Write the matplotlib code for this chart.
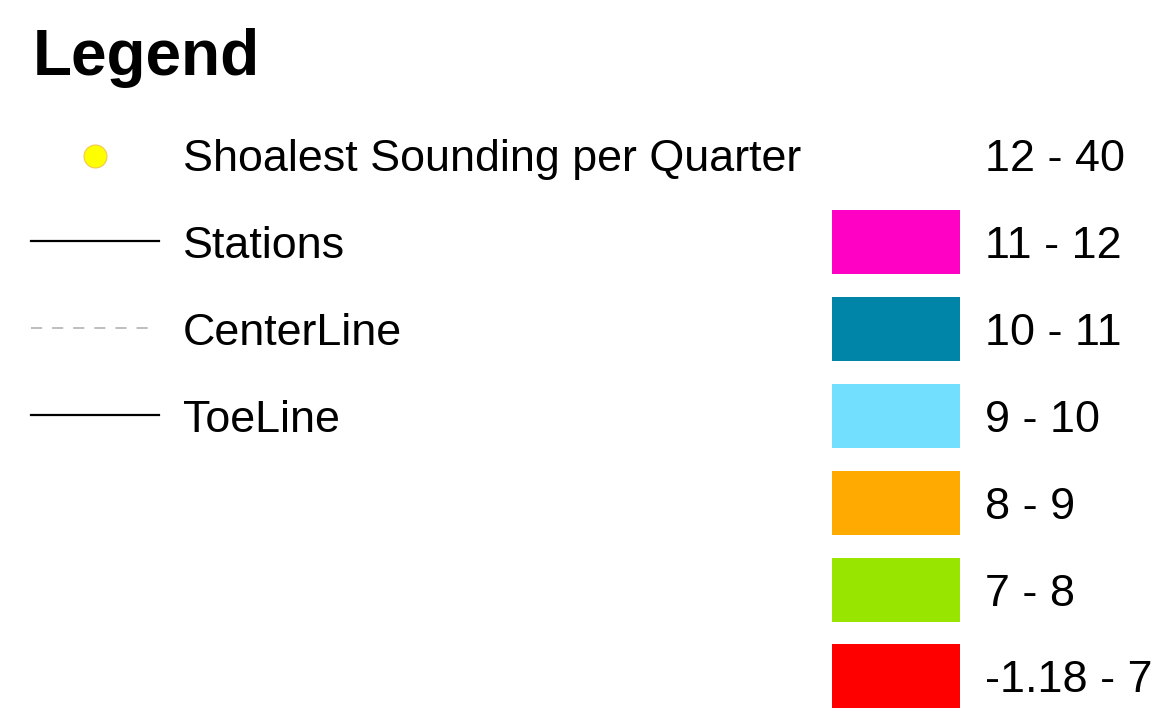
import matplotlib
matplotlib.use("Agg")
import matplotlib.pyplot as plt
from matplotlib.patches import Rectangle

plt.rcParams['font.family'] = ['Liberation Sans', 'DejaVu Sans']
plt.rcParams['lines.scale_dashes'] = False

# legend content
line_labels = ["Shoalest Sounding per Quarter", "Stations", "CenterLine", "ToeLine"]
depth_labels = ["12 - 40", "11 - 12", "10 - 11", "9 - 10", "8 - 9", "7 - 8", "-1.18 - 7"]
depth_colors = ["#ffffff", "#ff00c5", "#0084a8", "#73dfff", "#ffaa00", "#98e600", "#ff0000"]

W, H = 1169, 722
fig = plt.figure(figsize=(W / 100, H / 100), dpi=100)
ax = fig.add_axes([0, 0, 1, 1])
ax.set_xlim(0, W)
ax.set_ylim(H, 0)
ax.axis('off')

ax.text(33, 75, "Legend", fontsize=46, fontweight='bold', va='baseline', ha='left')

row0 = 155.0
step = 86.9
fs = 32.3

# left column: symbols
ax.plot([95], [row0 + 1], marker='o', markersize=16.5, markerfacecolor='#ffff00',
        markeredgecolor='#f2c84b', markeredgewidth=0.8, linestyle='none')
ax.plot([31, 159], [row0 + step - 1, row0 + step - 1], color='black', lw=1.6)
ax.plot([31, 150], [row0 + 2 * step - 1, row0 + 2 * step - 1], color='#bebebe', lw=1.4,
        linestyle=(0, (8.0, 7.2)))
ax.plot([31, 159], [row0 + 3 * step - 1, row0 + 3 * step - 1], color='black', lw=1.6)

for i, lab in enumerate(line_labels):
    ax.text(183, row0 + i * step + 16, lab, fontsize=fs, va='baseline', ha='left')

# right column: depth classes
for i, (lab, col) in enumerate(zip(depth_labels, depth_colors)):
    y = row0 + i * step
    ax.add_patch(Rectangle((832, y - 32), 128, 64, facecolor=col, edgecolor='none'))
    ax.text(985, y + 16, lab, fontsize=fs, va='baseline', ha='left')

fig.savefig("out.png", dpi=100)
